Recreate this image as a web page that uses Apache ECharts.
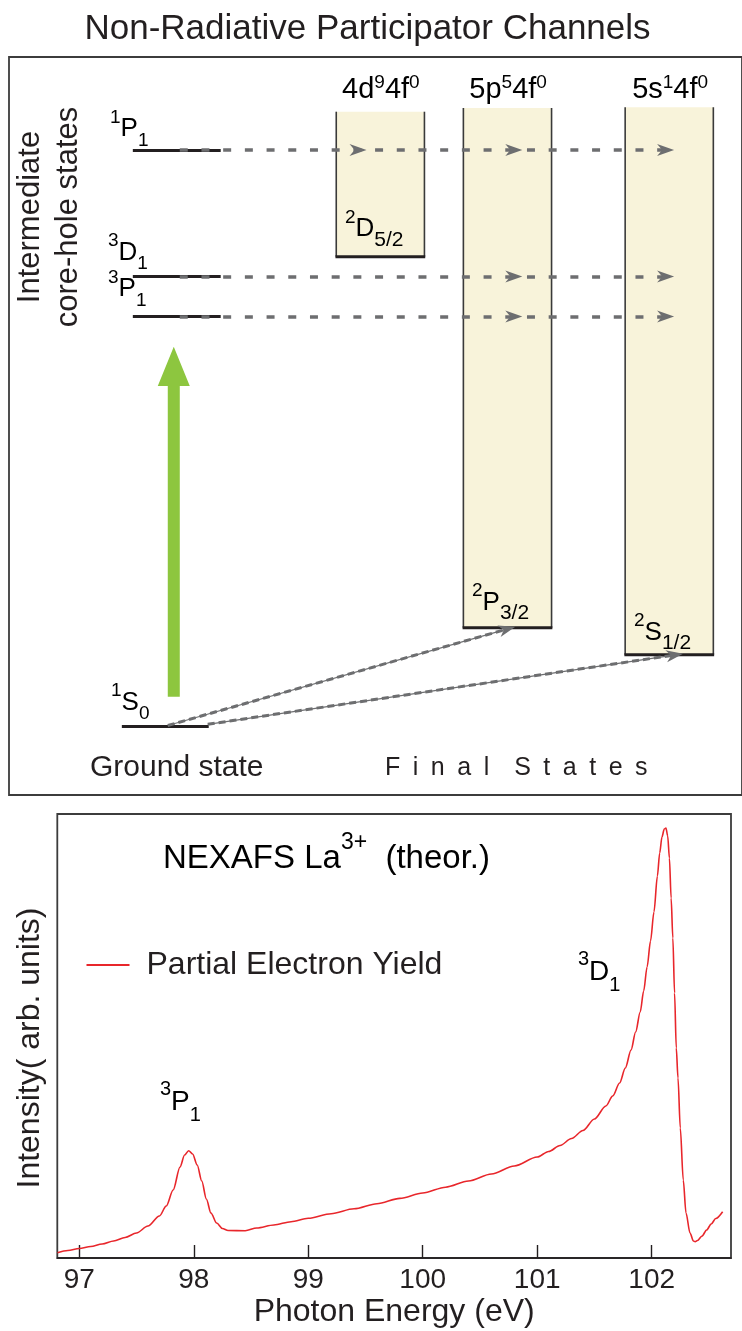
<!DOCTYPE html>
<html>
<head>
<meta charset="utf-8">
<script src="https://cdn.jsdelivr.net/npm/echarts@6/dist/echarts.min.js"></script>
<style>html,body{margin:0;padding:0;background:#fff}#c{width:742px;height:1331px}</style>
</head>
<body>
<div id="c"></div>
<script>
// ===================== DATA =====================
// Lower panel: theoretical NEXAFS of La3+ (partial electron yield)
const photonEnergy = [96.81, 96.9, 97.0, 97.1, 97.2, 97.3, 97.4, 97.5, 97.6, 97.7, 97.76, 97.82, 97.88, 97.92, 97.955,
  97.99, 98.03, 98.07, 98.11, 98.15, 98.2, 98.25, 98.3, 98.45, 98.55, 98.7, 98.85, 99.0, 99.2, 99.4, 99.6, 99.8,
  100.0, 100.2, 100.4, 100.6, 100.8, 101.0, 101.1, 101.2, 101.3, 101.4, 101.5, 101.6, 101.66, 101.72, 101.77,
  101.82, 101.86, 101.9, 101.93, 101.96, 101.99, 102.02, 102.05, 102.07, 102.09, 102.11, 102.125, 102.14,
  102.155, 102.17, 102.185, 102.2, 102.215, 102.23, 102.25, 102.276, 102.3, 102.335, 102.365, 102.38, 102.4,
  102.44, 102.48, 102.52, 102.56, 102.62];
const pey = [5.3, 7.5, 9.5, 11.5, 14, 17, 20.5, 25, 32, 42, 52, 68, 91, 103, 107.3,
  104, 93, 77, 59, 45, 35, 29.5, 27.5, 27.3, 30, 33, 36.3, 39.7, 44.3, 49.2, 54.3, 59.6,
  65, 70.8, 77, 84, 92, 101, 106.5, 112.5, 119.5, 127.5, 139, 152, 162, 175, 190,
  208, 226, 246, 267, 291, 317, 346, 382, 405, 421, 429, 430, 422,
  400, 360, 320, 265, 210, 180, 130, 78, 45, 25, 17, 16.3, 17.5,
  22, 28, 34, 39.5, 46.3];
const xTickValues = [97, 98, 99, 100, 101, 102];
const seriesName = 'Partial Electron Yield';

// Upper panel: level scheme (energies in arbitrary units, ground state = 0)
const groundTerm = ['1', 'S', '0'];
const groundEnergy = 0;
const intermediateTerms = [['1', 'P', '1'], ['3', 'D', '1'], ['3', 'P', '1']];
const intermediateEnergy = [576, 449.5, 409.5];
const finalConfigs = [['4d', '9', '4f', '0'], ['5p', '5', '4f', '0'], ['5s', '1', '4f', '0']];
const finalTerms = [['2', 'D', '5/2'], ['2', 'P', '3/2'], ['2', 'S', '1/2']];
const finalEnergy = [469.3, 98.3, 71.3];
const excitationEnergy = [29.3, 379.3];   // green excitation arrow (from, to)

// ===================== LAYOUT (schematic positions, px-like units) =====================
const TOPGRID = {left: 9, top: 57, width: 734, height: 738, xMin: 9, xMax: 743, yMin: -69, yMax: 669};
const LEVEL_X = [133, 221];
const GROUND_X = [122, 209];
const DASH_X0 = 180;
const COL_X = [[336.7, 425], [464, 552.3], [626, 714.3]];
const COL_TOP = [614.3, 618, 618.7];
const ARROW_TIP_X = [367, 523, 675];
const DIAG_START = [[168, 0.5], [208, 1.7]];
const DIAG_TIP_X = [516, 684];
const EXC_X = 174;

const FONT = "'Liberation Sans', Arial, Helvetica, sans-serif";
const INK = '#231f20';
const GRAY = '#6d6e70';
const RED = '#e8262b';
const ARROW_LEN = 17, ARROW_W = 12;
const ARROW_PATH = 'path://M0,0L17,6L0,12L5,6Z';

// ===================== BUILD =====================
function termRich(main, sup, sub, lh) {
  return {
    m: {fontSize: main, lineHeight: lh, verticalAlign: 'middle', fontFamily: FONT, color: INK},
    p: {fontSize: sup, lineHeight: sup, verticalAlign: 'top', fontFamily: FONT, color: INK},
    b: {fontSize: sub, lineHeight: sub, verticalAlign: 'bottom', fontFamily: FONT, color: INK}
  };
}
const termText = t => '{p|' + t[0] + '}{m|' + t[1] + '}{b|' + t[2] + '}';

// level lines
const levelLines = intermediateEnergy.map(e => ({coords: [[LEVEL_X[0], e], [LEVEL_X[1], e]]}));
levelLines.push({coords: [[GROUND_X[0], groundEnergy], [GROUND_X[1], groundEnergy]]});

// non-radiative channels: dashed horizontal arrows into every final continuum lying below the level
const dashLines = [];
const arrowHeads = [];
intermediateEnergy.forEach(e => {
  let maxTip = DASH_X0;
  finalEnergy.forEach((f, j) => {
    if (e > f) {
      maxTip = Math.max(maxTip, ARROW_TIP_X[j]);
      arrowHeads.push({value: [ARROW_TIP_X[j] - ARROW_LEN / 2, e], symbolRotate: 0});
    }
  });
  dashLines.push({coords: [[DASH_X0, e], [maxTip - 4, e]]});
});

// direct photoemission from the ground state into continua below the excitation energy
const diagLines = [];
let k = 0;
finalEnergy.forEach((f, j) => {
  if (f < excitationEnergy[1]) {
    const s = DIAG_START[k];
    const tip = [DIAG_TIP_X[k], f + 1];
    const dx = tip[0] - s[0], dy = tip[1] - s[1];
    const len = Math.hypot(dx, dy);
    const c = [tip[0] - dx / len * ARROW_LEN / 2, tip[1] - dy / len * ARROW_LEN / 2];
    diagLines.push({coords: [s, [tip[0] - dx / len * 6, tip[1] - dy / len * 6]]});
    arrowHeads.push({value: c, symbolRotate: Math.atan2(dy, dx) * 180 / Math.PI});
    k++;
  }
});

const chart = echarts.init(document.getElementById('c'), null, {renderer: 'canvas'});

const TXT = (x, y, style, extra) => Object.assign({type: 'text', x: x, y: y, z: 100, zlevel: 0, style: style}, extra || {});
const graphics = [
  TXT(367.5, 29.6, {text: 'Non-Radiative Participator Channels', fontSize: 35, fontFamily: FONT, fill: INK, align: 'center', verticalAlign: 'middle'}),
  TXT(49, 217, {text: 'Intermediate\ncore-hole states', fontSize: 31, lineHeight: 38, fontFamily: FONT, fill: INK, align: 'center', verticalAlign: 'middle'}, {rotation: Math.PI / 2}),
  TXT(90, 767.8, {text: 'Ground state', fontSize: 30, fontFamily: FONT, fill: INK, align: 'left', verticalAlign: 'middle'}),
  TXT(385, 768, {text: 'F\u2002i\u2002n\u2002a\u2002l\u2002\u2002S\u2002t\u2002a\u2002t\u2002e\u2002s', fontSize: 25, fontFamily: FONT, fill: INK, align: 'left', verticalAlign: 'middle'}),
  // level labels
  TXT(110, 108, {text: termText(intermediateTerms[0]), rich: termRich(26, 19, 19, 42), align: 'left', verticalAlign: 'top'}),
  TXT(108, 231.7, {text: termText(intermediateTerms[1]), rich: termRich(26, 19, 19, 42), align: 'left', verticalAlign: 'top'}),
  TXT(108, 268.3, {text: termText(intermediateTerms[2]), rich: termRich(26, 19, 19, 42), align: 'left', verticalAlign: 'top'}),
  TXT(111, 681.7, {text: termText(groundTerm), rich: termRich(26, 19, 19, 42), align: 'left', verticalAlign: 'top'}),
  // final term labels
  TXT(345, 208.3, {text: termText(finalTerms[0]), rich: termRich(26, 19, 21, 42), align: 'left', verticalAlign: 'top'}),
  TXT(472, 581.7, {text: termText(finalTerms[1]), rich: termRich(26, 19, 21, 42), align: 'left', verticalAlign: 'top'}),
  TXT(634, 611.7, {text: termText(finalTerms[2]), rich: termRich(26, 19, 21, 42), align: 'left', verticalAlign: 'top'}),
  // lower panel annotations
  TXT(163, 831.3, {text: '{m|NEXAFS La}{p|3+}{m|  (theor.)}', rich: termRich(33, 23, 22, 56), align: 'left', verticalAlign: 'top'}),
  TXT(578, 949, {text: termText(['3', 'D', '1']), rich: termRich(28, 20, 20, 46), align: 'left', verticalAlign: 'top'}),
  TXT(160, 1079, {text: termText(['3', 'P', '1']), rich: termRich(28, 20, 20, 46), align: 'left', verticalAlign: 'top'}),
  TXT(30, 1048, {text: 'Intensity( arb. units)', fontSize: 32, fontFamily: FONT, fill: INK, align: 'center', verticalAlign: 'middle'}, {rotation: Math.PI / 2})
];
// column configuration labels
finalConfigs.forEach((c, j) => {
  graphics.push(TXT((COL_X[j][0] + COL_X[j][1]) / 2, 73,
    {text: '{m|' + c[0] + '}{p|' + c[1] + '}{m|' + c[2] + '}{p|' + c[3] + '}',
      rich: termRich(29, 19, 19, 34), align: 'center', verticalAlign: 'top'}));
});

const option = {
  animation: false,
  backgroundColor: '#ffffff',
  textStyle: {fontFamily: FONT},
  graphic: graphics,
  legend: {
    data: [{name: seriesName, icon: 'rect'}], left: 86.5, top: 949, padding: 0, itemWidth: 43, itemHeight: 1.8,
    itemStyle: {color: RED},
    textStyle: {fontSize: 32, color: INK, fontFamily: FONT, padding: [0, 0, 0, 12]}
  },
  grid: [
    {left: TOPGRID.left, top: TOPGRID.top, width: TOPGRID.width, height: TOPGRID.height, show: true, borderColor: '#3c3c3c', borderWidth: 1.8, backgroundColor: 'transparent'},
    {left: 57.3, top: 814, width: 673.7, height: 444, show: true, borderColor: '#3c3c3c', borderWidth: 1.8, backgroundColor: 'transparent'}
  ],
  xAxis: [
    {gridIndex: 0, type: 'value', min: TOPGRID.xMin, max: TOPGRID.xMax, show: false},
    {gridIndex: 1, type: 'value', min: 96.808, max: 102.693,
      axisLine: {show: true, lineStyle: {color: INK, width: 1.5}},
      axisTick: {show: true, inside: true, length: 13, customValues: xTickValues, lineStyle: {color: INK, width: 1.4}},
      axisLabel: {show: true, customValues: xTickValues, fontSize: 28, color: INK, margin: 8, fontFamily: FONT},
      splitLine: {show: false},
      name: 'Photon Energy (eV)', nameLocation: 'middle', nameGap: 38,
      nameTextStyle: {fontSize: 32, color: INK, fontFamily: FONT}}
  ],
  yAxis: [
    {gridIndex: 0, type: 'value', min: TOPGRID.yMin, max: TOPGRID.yMax, show: false},
    {gridIndex: 1, type: 'value', min: 0, max: 444,
      axisLine: {show: false}, axisTick: {show: false}, axisLabel: {show: false}, splitLine: {show: false}}
  ],
  series: [
    { // final-state continua
      type: 'custom', xAxisIndex: 0, yAxisIndex: 0, z: 1, silent: true,
      data: finalEnergy.map((e, i) => [i, e]),
      renderItem: function (params, api) {
        const i = params.dataIndex;
        const p0 = api.coord([COL_X[i][0], COL_TOP[i]]);
        const p1 = api.coord([COL_X[i][1], api.value(1)]);
        return {type: 'group', children: [
          {type: 'rect', shape: {x: p0[0], y: p0[1], width: p1[0] - p0[0], height: p1[1] - p0[1]}, style: {fill: '#f8f3da'}},
          {type: 'line', shape: {x1: p0[0], y1: p0[1], x2: p0[0], y2: p1[1]}, style: {stroke: '#3a3a3a', lineWidth: 1.6}},
          {type: 'line', shape: {x1: p1[0], y1: p0[1], x2: p1[0], y2: p1[1]}, style: {stroke: '#3a3a3a', lineWidth: 1.6}},
          {type: 'line', shape: {x1: p0[0] - 0.8, y1: p1[1], x2: p1[0] + 0.8, y2: p1[1]}, style: {stroke: INK, lineWidth: 3}}
        ]};
      }
    },
    { // excitation arrow
      type: 'custom', xAxisIndex: 0, yAxisIndex: 0, z: 2, silent: true,
      data: [[EXC_X, excitationEnergy[0], excitationEnergy[1]]],
      renderItem: function (params, api) {
        const tail = api.coord([api.value(0), api.value(1)]);
        const tip = api.coord([api.value(0), api.value(2)]);
        const hb = tip[1] + 39.3, x = tail[0];
        return {type: 'polygon', shape: {points: [[x - 6, tail[1]], [x - 6, hb], [x - 16, hb], [tip[0], tip[1]], [x + 16, hb], [x + 6, hb], [x + 6, tail[1]]]}, style: {fill: '#8dc63f'}};
      }
    },
    { // energy levels
      type: 'lines', coordinateSystem: 'cartesian2d', xAxisIndex: 0, yAxisIndex: 0, z: 3, silent: true,
      data: levelLines, lineStyle: {color: INK, width: 3, opacity: 1}
    },
    { // horizontal dashed transitions
      type: 'lines', coordinateSystem: 'cartesian2d', xAxisIndex: 0, yAxisIndex: 0, z: 4, silent: true,
      data: dashLines, lineStyle: {color: GRAY, width: 3.5, type: [8, 13.7], opacity: 1}
    },
    { // diagonal transitions: thin core line
      type: 'lines', coordinateSystem: 'cartesian2d', xAxisIndex: 0, yAxisIndex: 0, z: 4, silent: true,
      data: diagLines, lineStyle: {color: GRAY, width: 1.2, opacity: 1}
    },
    { // diagonal transitions: dashes
      type: 'lines', coordinateSystem: 'cartesian2d', xAxisIndex: 0, yAxisIndex: 0, z: 4, silent: true,
      data: diagLines, lineStyle: {color: GRAY, width: 3, type: [7, 4], opacity: 1}
    },
    { // arrow heads
      type: 'scatter', xAxisIndex: 0, yAxisIndex: 0, z: 5, silent: true,
      symbol: ARROW_PATH, symbolSize: [ARROW_LEN, ARROW_W],
      itemStyle: {color: GRAY, opacity: 1},
      data: arrowHeads
    },
    {
      name: seriesName, type: 'line', xAxisIndex: 1, yAxisIndex: 1, z: 3,
      data: photonEnergy.map((x, i) => [x, pey[i]]),
      showSymbol: false, symbol: 'none', smooth: 0.3, smoothMonotone: 'x',
      color: RED, lineStyle: {color: RED, width: 1.6}
    }
  ]
};
chart.setOption(option);
</script>
</body>
</html>
